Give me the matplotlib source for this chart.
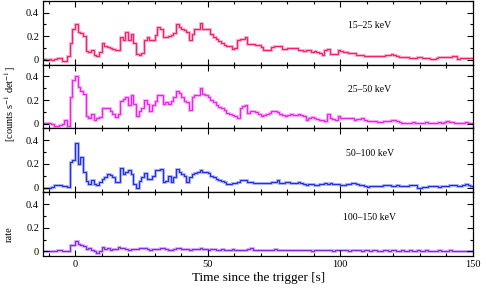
import numpy as np
import matplotlib.pyplot as plt
from matplotlib.ticker import MultipleLocator

plt.rcParams['font.family'] = ['Liberation Serif', 'DejaVu Serif']
plt.rcParams['mathtext.fontset'] = 'stix'

# 1 s bins from -12 s to 150 s
t_start, t_end = -12, 150

rate_15_25 = [
    0.005, 0.0, 0.005, 0.0, 0.01, 0.015, 0.015, -0.01, -0.01, 0.03,
    0.14, 0.26, 0.30, 0.24, 0.23, 0.2, 0.075, 0.07, 0.085, 0.04,
    0.035, 0.07, 0.14, 0.115, 0.11, 0.1, 0.09, 0.085, 0.08, 0.195,
    0.165, 0.24, 0.17, 0.22, 0.14, 0.05, 0.045, 0.06, 0.17, 0.19,
    0.165, 0.17, 0.21, 0.275, 0.26, 0.195, 0.19, 0.2, 0.21, 0.23,
    0.3, 0.28, 0.26, 0.25, 0.24, 0.165, 0.22, 0.26, 0.265, 0.31,
    0.265, 0.265, 0.26, 0.22, 0.19, 0.175, 0.16, 0.14, 0.13, 0.12,
    0.115, 0.095, 0.1, 0.17, 0.18, 0.18, 0.19, 0.135,
    0.135, 0.135, 0.13, 0.13, 0.11, 0.08, 0.08, 0.08, 0.11, 0.12,
    0.12, 0.12, 0.095, 0.095, 0.1, 0.1, 0.1, 0.1, 0.085, 0.085,
    0.075, 0.08, 0.08, 0.065, 0.075, 0.065, 0.055, 0.04, 0.08, 0.095,
    0.05, 0.05, 0.05, 0.08, 0.075, 0.07, 0.065, 0.06, 0.055, 0.06,
    0.04, 0.04, 0.04, 0.035, 0.03, 0.03, 0.035, 0.035, 0.03, 0.03,
    0.035, 0.045, 0.045, 0.05, 0.04, 0.035, 0.025, 0.025, 0.025, 0.025,
    0.02, 0.02, 0.02, 0.025, 0.025, 0.02, 0.02, 0.015, 0.01, 0.01,
    0.02, 0.025, 0.025, 0.025, 0.025, 0.025, 0.03, 0.03, 0.01, 0.015,
    0.02, 0.02, 0.02, 0.02,
]

rate_25_50 = [
    0.005, 0.005, 0.005, 0.0, -0.015, -0.02, -0.01, 0.0, 0.035, -0.015,
    0.23, 0.37, 0.40, 0.31, 0.28, 0.25, 0.065, 0.05, 0.085, 0.03,
    0.05, 0.06, 0.13, 0.135, 0.13, 0.11, 0.08, 0.055, 0.08, 0.195,
    0.21, 0.225, 0.16, 0.24, 0.165, 0.065, 0.105, 0.13, 0.2, 0.165,
    0.105, 0.16, 0.195, 0.24, 0.245, 0.165, 0.18, 0.165, 0.195, 0.225,
    0.28, 0.26, 0.225, 0.195, 0.18, 0.115, 0.225, 0.24, 0.245, 0.305,
    0.25, 0.24, 0.225, 0.2, 0.18, 0.16, 0.145, 0.135, 0.115, 0.095,
    0.085, 0.07, 0.065, 0.045, 0.135, 0.15, 0.16, 0.095,
    0.105, 0.105, 0.1, 0.08, 0.065, 0.075, 0.085, 0.095, 0.105, 0.105,
    0.1, 0.08, 0.07, 0.065, 0.075, 0.08, 0.075, 0.07, 0.08, 0.075,
    0.065, 0.035, 0.045, 0.055, 0.045, 0.04, 0.035, 0.03, 0.025, 0.08,
    0.045, 0.04, 0.035, 0.065, 0.05, 0.045, 0.05, 0.05, 0.045, 0.035,
    0.04, 0.04, 0.045, 0.035, 0.025, 0.025, 0.02, 0.02, 0.015, 0.015,
    0.02, 0.02, 0.025, 0.03, 0.035, 0.02, 0.015, 0.01, 0.005, 0.005,
    0.01, 0.015, 0.01, 0.005, 0.005, 0.01, 0.015, 0.01, 0.005, 0.005,
    0.01, 0.015, 0.01, 0.015, 0.02, 0.015, 0.015, 0.01, 0.005, 0.005,
    0.01, 0.015, 0.01, 0.005,
]

rate_50_100 = [
    0.0, 0.0, 0.0, 0.005, 0.02, 0.02, 0.02, 0.015, 0.015, 0.005,
    0.215, 0.23, 0.38, 0.2, 0.26, 0.13, 0.055, 0.03, 0.065, 0.03,
    0.02, 0.045, 0.07, 0.09, 0.115, 0.11, 0.085, 0.045, 0.045, 0.165,
    0.115, 0.135, 0.145, 0.115, 0.03, 0.0, 0.055, 0.085, 0.12, 0.07,
    0.07, 0.1, 0.145, 0.15, 0.155, 0.045, 0.055, 0.1, 0.045, 0.085,
    0.155, 0.13, 0.115, 0.1, 0.045, 0.085, 0.115, 0.125, 0.13, 0.15,
    0.13, 0.135, 0.12, 0.1, 0.09, 0.07, 0.065, 0.055, 0.045, 0.03,
    0.03, 0.035, 0.04, 0.05, 0.06, 0.065, 0.06, 0.045,
    0.045, 0.04, 0.035, 0.035, 0.035, 0.035, 0.04, 0.04, 0.045, 0.05,
    0.065, 0.04, 0.035, 0.045, 0.045, 0.04, 0.035, 0.04, 0.045, 0.035,
    0.03, 0.025, 0.03, 0.03, 0.025, 0.025, 0.03, 0.03, 0.035, 0.03,
    0.035, 0.03, 0.03, 0.03, 0.025, 0.025, 0.03, 0.03, 0.035, 0.035,
    0.03, 0.025, 0.025, 0.015, 0.005, 0.01, 0.015, 0.015, 0.015, 0.015,
    0.02, 0.025, 0.02, 0.015, 0.015, 0.02, 0.015, 0.015, 0.015, 0.015,
    0.02, 0.025, 0.02, 0.0, -0.005, 0.005, 0.005, 0.01, 0.015, 0.015,
    0.01, 0.005, 0.01, 0.015, 0.015, 0.02, 0.025, 0.02, 0.015, 0.015,
    0.02, 0.03, 0.025, 0.015,
]

rate_100_150 = [
    0.0, 0.0, 0.005, 0.0, 0.0, 0.015, 0.01, 0.0, 0.0, 0.0,
    0.05, 0.05, 0.09, 0.06, 0.05, 0.045, 0.02, 0.03, 0.01, 0.0,
    -0.01, 0.005, 0.035, 0.02, 0.025, 0.015, 0.02, 0.02, 0.035, 0.03,
    0.025, 0.02, 0.015, 0.02, 0.02, 0.02, 0.025, 0.025, 0.03, 0.02,
    0.015, 0.02, 0.02, 0.02, 0.025, 0.03, 0.02, 0.015, 0.01, 0.02,
    0.03, 0.025, 0.02, 0.02, 0.02, 0.015, 0.02, 0.02, 0.02, 0.025,
    0.02, 0.02, 0.015, 0.02, 0.02, 0.015, 0.015, 0.02, 0.015, 0.01,
    0.015, 0.02, 0.015, 0.015, 0.01, 0.015, 0.015, 0.02,
    0.025, 0.015, 0.015, 0.01, 0.015, 0.015, 0.01, 0.015, 0.015, 0.02,
    0.015, 0.01, 0.01, 0.015, 0.015, 0.01, 0.01, 0.015, 0.01, 0.01,
    0.015, 0.01, 0.01, 0.005, 0.01, 0.015, 0.01, 0.01, 0.01, 0.015,
    0.01, 0.005, 0.01, 0.01, 0.01, 0.015, 0.01, 0.005, 0.01, 0.01,
    0.01, 0.01, 0.005, 0.01, 0.01, 0.005, 0.01, 0.01, 0.005, 0.005,
    0.01, 0.01, 0.005, 0.01, 0.01, 0.005, 0.005, 0.01, 0.005, 0.005,
    0.01, 0.005, 0.005, 0.01, 0.005, 0.005, 0.01, 0.005, 0.005, 0.0,
    0.005, 0.01, 0.005, 0.005, 0.005, 0.01, 0.005, 0.005, 0.0, 0.005,
    0.005, 0.005, 0.0, 0.005,
]

bands = ['15\u201325 keV', '25\u201350 keV', '50\u2013100 keV', '100\u2013150 keV']
colors = ['#f5206e', '#f020f0', '#2030e8', '#8a25ea']
series = [rate_15_25, rate_25_50, rate_50_100, rate_100_150]

edges = np.arange(t_start, t_end + 1)

fig, axes = plt.subplots(4, 1, sharex=True, figsize=(4.86, 2.89), dpi=100)
fig.subplots_adjust(left=0.089, right=0.973, top=0.997, bottom=0.114, hspace=0)

for ax, vals, col, band in zip(axes, series, colors, bands):
    vals = np.array(vals)
    ax.stairs(vals, edges, color=col, lw=2.2, alpha=0.3, baseline=None)
    ax.stairs(vals, edges, color=col, lw=0.9, baseline=None)
    ax.set_xlim(-12, 150)
    ax.set_ylim(-0.04, 0.5)
    ax.set_yticks([0, 0.2, 0.4])
    ax.set_yticklabels(['0', '0.2', '0.4'])
    ax.yaxis.set_minor_locator(MultipleLocator(0.1))
    ax.xaxis.set_major_locator(MultipleLocator(50))
    ax.xaxis.set_minor_locator(MultipleLocator(10))
    ax.tick_params(which='both', direction='in', top=True, right=True,
                   labelsize=7.5, width=0.8, pad=3)
    ax.tick_params(which='major', length=4)
    ax.tick_params(which='minor', length=2.5)
    for s in ax.spines.values():
        s.set_linewidth(0.9)
    ax.text(0.76, 0.61, band, transform=ax.transAxes, fontsize=7,
            ha='center', va='center')

axes[-1].set_xlabel('Time since the trigger [s]', fontsize=9.5, labelpad=2)

fig.text(0.02, 0.64, r'[counts s$^{-1}$ det$^{-1}$]', rotation=90,
         fontsize=7.5, ha='center', va='center')
fig.text(0.02, 0.19, 'rate', rotation=90, fontsize=7.5,
         ha='center', va='center')

fig.savefig('out.png', dpi=100)
